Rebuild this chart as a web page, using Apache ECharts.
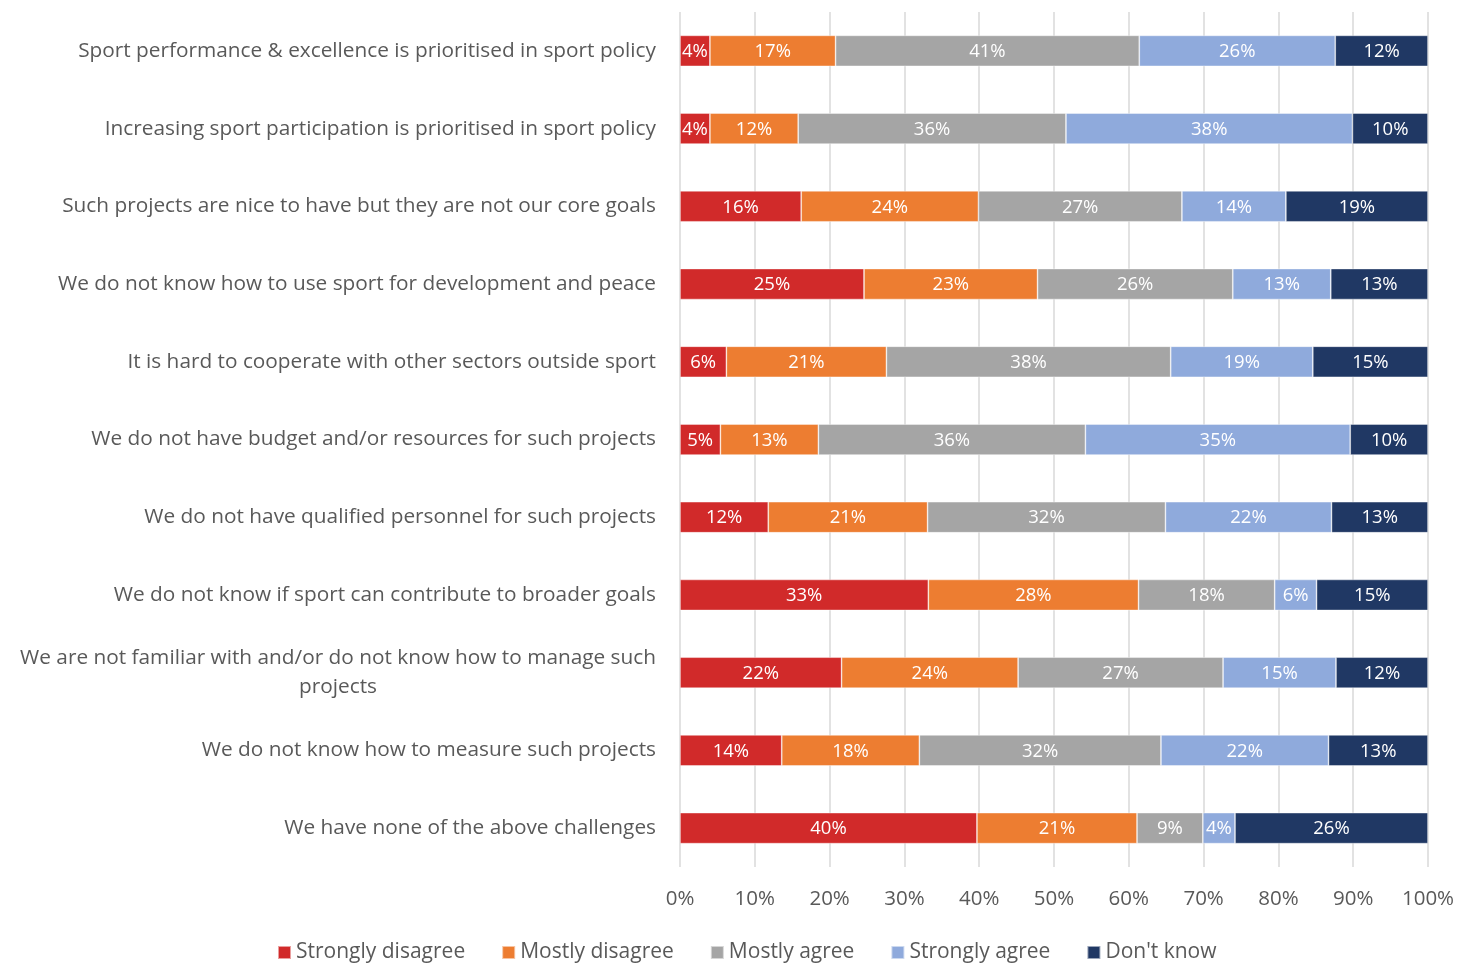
<!DOCTYPE html>
<html>
<head>
<meta charset="utf-8">
<title>Challenges in sport for development and peace</title>
<script src="https://cdn.jsdelivr.net/npm/echarts@6/dist/echarts.min.js"></script>
<style>
  html, body { margin: 0; padding: 0; background: #ffffff; }
  #chart { width: 1469px; height: 965px; }
</style>
</head>
<body>
<div id="chart"></div>
<script>
// Statements, top to bottom
const statements = [
  'Sport performance & excellence is prioritised in sport policy',
  'Increasing sport participation is prioritised in sport policy',
  'Such projects are nice to have but they are not our core goals',
  'We do not know how to use sport for development and peace',
  'It is hard to cooperate with other sectors outside sport',
  'We do not have budget and/or resources for such projects',
  'We do not have qualified personnel for such projects',
  'We do not know if sport can contribute to broader goals',
  'We are not familiar with and/or do not know how to manage such\nprojects',
  'We do not know how to measure such projects',
  'We have none of the above challenges'
];

// Share of respondents (%) per answer, one value per statement
const stronglyDisagree = [4.0, 4.0, 16.2, 24.6, 6.2, 5.4, 11.8, 33.2, 21.6, 13.6, 39.7];
const mostlyDisagree   = [16.8, 11.8, 23.7, 23.2, 21.4, 13.1, 21.3, 28.1, 23.6, 18.4, 21.4];
const mostlyAgree      = [40.6, 35.8, 27.2, 26.1, 38.0, 35.7, 31.8, 18.2, 27.4, 32.3, 8.8];
const stronglyAgree    = [26.2, 38.3, 13.9, 13.1, 19.0, 35.4, 22.2, 5.6, 15.1, 22.4, 4.3];
const dontKnow         = [12.4, 10.1, 19.0, 13.0, 15.4, 10.4, 12.9, 14.9, 12.3, 13.3, 25.8];

const answerNames = ['Strongly disagree', 'Mostly disagree', 'Mostly agree', 'Strongly agree', "Don't know"];
const answerColors = ['#D12A2A', '#ED7D31', '#A5A5A5', '#8FAADC', '#203864'];
const answerValues = [stronglyDisagree, mostlyDisagree, mostlyAgree, stronglyAgree, dontKnow];

const xTicks = { min: 0, max: 100, step: 10 };

const FONT = '"Open Sans"';
const TEXT_GREY = '#595959';

const series = answerNames.map((name, i) => ({
  name: name,
  type: 'bar',
  stack: 'total',
  barWidth: 31,
  data: answerValues[i],
  itemStyle: {
    color: answerColors[i],
    borderColor: 'rgba(255,255,255,0.55)',
    borderWidth: 0.75
  },
  label: {
    show: true,
    position: 'inside',
    color: '#ffffff',
    fontFamily: FONT,
    fontSize: 18.5,
    offset: [0, 1],
    formatter: p => Math.round(p.value) + '%'
  },
  emphasis: { disabled: true }
}));

const chart = echarts.init(document.getElementById('chart'), null, { renderer: 'canvas' });

chart.setOption({
  animation: false,
  backgroundColor: '#ffffff',
  textStyle: { fontFamily: FONT },
  grid: { left: 680, right: 41, top: 12, bottom: 98, containLabel: false },
  xAxis: {
    type: 'value',
    min: xTicks.min,
    max: xTicks.max,
    interval: xTicks.step,
    axisLine: { show: false },
    axisTick: { show: false },
    splitLine: { show: true, lineStyle: { color: '#D9D9D9', width: 1.5 } },
    axisLabel: {
      color: TEXT_GREY,
      fontFamily: FONT,
      fontSize: 20.5,
      margin: 22,
      formatter: '{value}%'
    }
  },
  yAxis: {
    type: 'category',
    inverse: true,
    data: statements,
    axisLine: { show: false },
    axisTick: { show: false },
    axisLabel: {
      margin: 24,
      color: TEXT_GREY,
      fontFamily: FONT,
      fontSize: 20.8,
      lineHeight: 29,
      formatter: v => v.split('\n').map(s => '{c|' + s + '}').join('\n'),
      rich: {
        c: {
          align: 'center',
          color: TEXT_GREY,
          fontFamily: FONT,
          fontSize: 20.8,
          lineHeight: 29
        }
      }
    }
  },
  legend: {
    data: answerNames,
    bottom: -3,
    left: 272,
    icon: 'rect',
    itemWidth: 13,
    itemHeight: 13,
    itemGap: 36,
    textStyle: { color: TEXT_GREY, fontFamily: FONT, fontSize: 21, padding: [0, 0, 0, 0] },
    selectedMode: false
  },
  series: series
});
</script>
</body>
</html>
